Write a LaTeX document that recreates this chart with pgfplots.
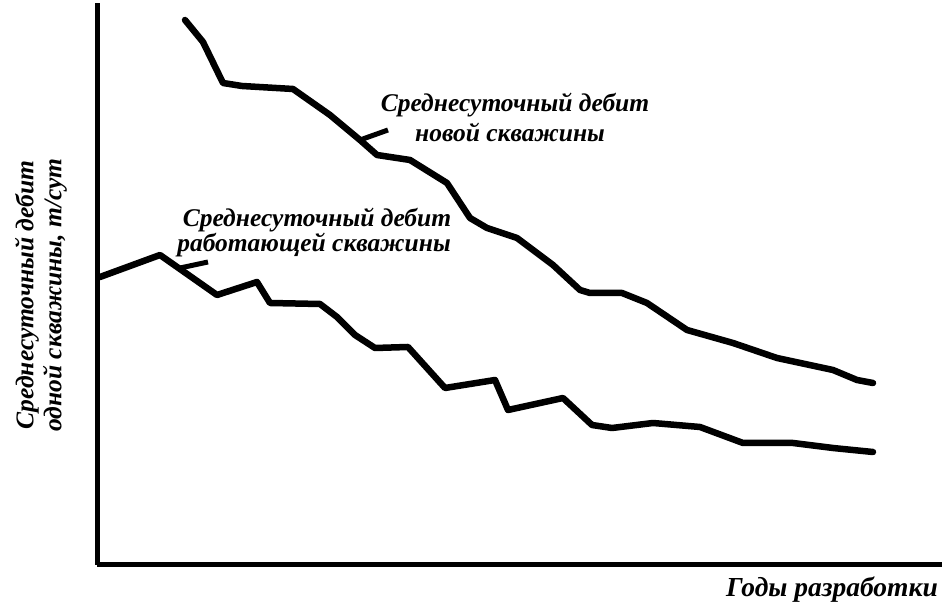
\documentclass[border=0pt]{standalone}
\usepackage{fontspec}
\setmainfont{Liberation Serif}
\usepackage{pgfplots}
\pgfplotsset{compat=1.18}
\begin{document}
\begin{tikzpicture}[x=1pt,y=1pt]
\path[use as bounding box] (0,0) rectangle (945,609);
\begin{axis}[at={(97pt,44pt)}, anchor=south west, scale only axis,
  width=845pt, height=562pt,
  xmin=97, xmax=942, ymin=44, ymax=606,
  axis x line=bottom, axis y line=left,
  axis line style={line width=5pt, -},
  xtick=\empty, ytick=\empty, clip=false]
\addplot[black, no markers, line width=6.5pt, line join=round, line cap=round] coordinates {(185,589)(203,567)(223,526)(242,523)(293,520)(330,494)(360,469)(377,454)(410,449)(447,426)(470,391)(487,381)(517,371)(553,344)(580,319)(590,316)(622,316)(647,306)(687,279)(733,266)(777,251)(833,239)(857,229)(873,226)};
\addplot[black, no markers, line width=6.5pt, line join=round, line cap=round] coordinates {(100,332)(160,354)(217,314)(257,327)(270,306)(320,305)(337,292)(355,274)(375,261)(408,262)(445,221)(495,229)(508,199)(563,211)(592,184)(612,181)(653,186)(700,182)(743,166)(793,166)(833,161)(873,157)};
\addplot[black, no markers, line width=5pt, line cap=butt] coordinates {(360,469)(388,479)};
\addplot[black, no markers, line width=5pt, line cap=butt] coordinates {(180,341)(208,347)};
\node[font=\fontsize{25.5}{25}\selectfont\bfseries\itshape] at (axis cs:515,504) {Среднесуточный дебит};
\node[font=\fontsize{25.5}{25}\selectfont\bfseries\itshape] at (axis cs:510,477) {новой скважины};
\node[font=\fontsize{25.5}{25}\selectfont\bfseries\itshape] at (axis cs:317,389) {Среднесуточный дебит};
\node[font=\fontsize{25.5}{25}\selectfont\bfseries\itshape] at (axis cs:314,364) {работающей скважины};
\node[rotate=90, font=\fontsize{25.5}{25}\selectfont\bfseries\itshape] at (axis cs:27,314) {Среднесуточный дебит};
\node[rotate=90, font=\fontsize{25.5}{25}\selectfont\bfseries\itshape] at (axis cs:55,314) {одной скважины, т/сут};
\node[font=\fontsize{27.5}{25}\selectfont\bfseries\itshape] at (axis cs:832,19) {Годы разработки};
\end{axis}
\end{tikzpicture}
\end{document}
